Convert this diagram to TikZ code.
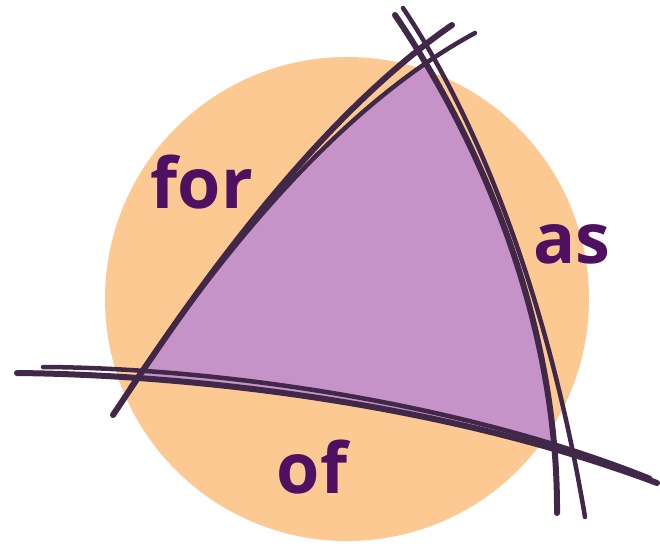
\documentclass[tikz,border=0pt]{standalone}
\usepackage{fontspec}
\setmainfont{Open Sans}
\definecolor{peach}{RGB}{252,201,147}
\definecolor{lilac}{RGB}{198,147,200}
\definecolor{ink}{RGB}{66,40,72}
\definecolor{plum}{RGB}{78,16,96}
\begin{document}
\begin{tikzpicture}[x=1pt,y=-1pt,
    pen/.style={draw=ink,line width=6pt,line cap=round},
    thinpen/.style={draw=ink,line width=4.5pt,line cap=round},
    word/.style={text=plum,font=\fontsize{70}{70}\selectfont\bfseries,inner sep=0pt,anchor=base}]
    \useasboundingbox (0,0) rectangle (660,548);
    \fill[peach] (347,299) circle (242pt);
    \begin{scope}
        \clip (130,388) .. controls (175,325) and (305,125) .. (475,33) -- (700,-50) -- (700,600) -- (0,600) -- cycle;
        \clip (395,15) .. controls (480,140) and (558,320) .. (557,513) -- (557,700) -- (-100,700) -- (-100,-100) -- (395,-100) -- cycle;
        \clip (17,373) .. controls (200,375) and (450,405) .. (657,483) -- (700,483) -- (700,-100) -- (-100,-100) -- (-100,373) -- cycle;
        \fill[lilac] (0,0) rectangle (660,548);
    \end{scope}
    % the three sketched lines
    \draw[pen] (113,415) .. controls (170,330) and (300,130) .. (452,25);
    \draw[thinpen] (130,388) .. controls (175,325) and (305,125) .. (475,33);
    \draw[pen] (395,15) .. controls (480,140) and (558,320) .. (557,513);
    \draw[thinpen] (403,8) .. controls (488,135) and (552,320) .. (585,517);
    \draw[pen] (17,373) .. controls (200,375) and (450,405) .. (657,483);
    \draw[thinpen] (43,367) .. controls (210,368) and (455,400) .. (650,478);
    \node[word] (lblfor) at (202,208) {for};
    \node[word] (lblas) at (572,263) {as};
    \node[word] (lblof) at (312,493) {of};
\end{tikzpicture}
\end{document}
